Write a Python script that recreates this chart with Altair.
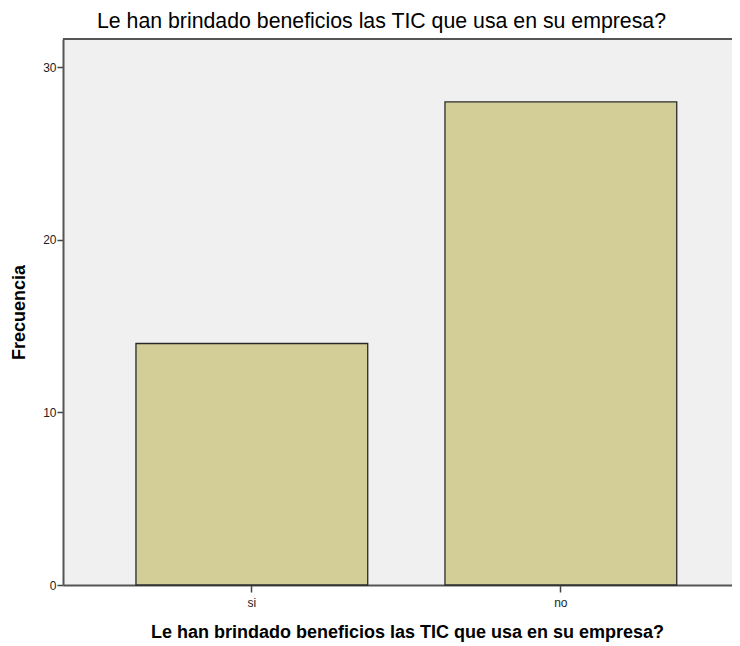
import altair as alt
import pandas as pd

categories = ["si", "no"]
frequencies = [14, 28]
y_ticks = [0, 10, 20, 30]
title_text = "Le han brindado beneficios las TIC que usa en su empresa?"

df = pd.DataFrame({"cat": categories, "freq": frequencies})

W, H = 669, 546
YMAX = 31.65

x_enc = alt.X(
    "cat:N",
    sort=categories,
    scale=alt.Scale(paddingInner=0.25, paddingOuter=0.2075, align=0.569),
    axis=alt.Axis(
        title=title_text,
        labelAngle=0,
        labelFont="Liberation Sans",
        labelFontSize=12,
        labelColor="#222222",
        labelPadding=5,
        tickSize=7,
        tickColor="#444444",
        tickWidth=1.5,
        domainColor="#555555",
        domainWidth=2,
        titleFont="Liberation Sans",
        titleFontSize=18,
        titleFontWeight="bold",
        titleColor="#000000",
        titlePadding=15,
        titleX=344,
    ),
)
y_enc = alt.Y(
    "freq:Q",
    scale=alt.Scale(domain=[0, YMAX], nice=False),
    axis=alt.Axis(
        title="Frecuencia",
        values=y_ticks,
        grid=False,
        labelFont="Liberation Sans",
        labelFontSize=12,
        labelColor="#222222",
        labelPadding=1,
        tickSize=6,
        tickColor="#444444",
        tickWidth=1.5,
        domainColor="#555555",
        domainWidth=2,
        titleFont="Liberation Sans",
        titleFontSize=18,
        titleFontWeight="bold",
        titleColor="#000000",
        titlePadding=14,
    ),
)

bars = alt.Chart(df).mark_bar(
    fill="#D3CE98", stroke="#2A2A2A", strokeWidth=1.3
).encode(x=x_enc, y=y_enc)

top_border = alt.Chart(df).mark_rule(color="#555555", strokeWidth=2).encode(
    x=alt.value(0), x2=alt.value(W), y=alt.value(0)
)

chart = (
    alt.layer(bars, top_border)
    .properties(
        width=W,
        height=H,
        background="#FFFFFF",
        padding={"left": 55, "top": 31, "right": 0, "bottom": 60},
        autosize=alt.AutoSizeParams(type="none"),
        title=alt.TitleParams(
            text=title_text,
            font="Liberation Sans",
            fontSize=21.3,
            fontWeight="normal",
            color="#000000",
            anchor="middle",
            dx=-16,
            offset=6,
        ),
    )
    .configure_view(fill="#F0F0F0", strokeWidth=0)
)

chart.save("out.html", embed_options={"renderer": "svg", "actions": False})
